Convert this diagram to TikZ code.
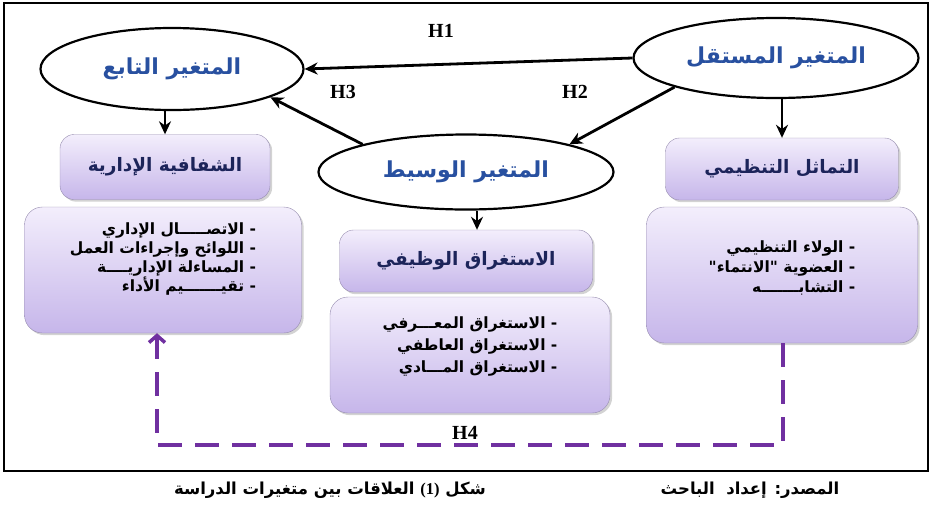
\documentclass[tikz,border=0pt]{standalone}
\usepackage{fontspec}
\usepackage{tikz}
\usetikzlibrary{arrows.meta,shapes.geometric,shadows}
\TeXXeTstate=1
\newfontfamily\arabicfont[Script=Arabic]{DejaVu Sans}
\newfontfamily\latinfont{Liberation Serif}
\definecolor{vartext}{RGB}{40,80,160}
\definecolor{boxtext}{RGB}{28,36,90}
\definecolor{boxtop}{RGB}{243,238,252}
\definecolor{boxbottom}{RGB}{198,182,234}
\definecolor{boxline}{RGB}{150,140,175}
\definecolor{hpath}{RGB}{112,48,160}

\begin{document}
\begin{tikzpicture}[x=1pt,y=-1pt,>={Stealth[length=13pt,width=12pt]},
  var/.style={draw,ellipse,line width=2.2pt,fill=white,inner sep=0pt,
    font=\arabicfont\bfseries\fontsize{22}{26}\selectfont,text=vartext},
  titlebox/.style={draw=boxline,rounded corners=14pt,top color=boxtop,bottom color=boxbottom,
    drop shadow={opacity=0.35},font=\arabicfont\bfseries\fontsize{18.5}{22}\selectfont,text=boxtext},
  listbox/.style={draw=boxline,rounded corners=18pt,top color=boxtop,bottom color=boxbottom,
    drop shadow={opacity=0.35},align=right,font=\arabicfont\bfseries\fontsize{15.5}{19}\selectfont},
  hyp/.style={font=\latinfont\bfseries\fontsize{20}{24}\selectfont},
  link/.style={->,line width=2.8pt},
  h4link/.style={-{Straight Barb[length=7pt,width=16pt]},line width=3.5pt,draw=hpath,
    dash pattern=on 24pt off 13pt}]
\useasboundingbox (0,0) rectangle (933,507);
\draw[line width=2pt] (4,3) rectangle (928,471);

% the three variables
\node[var,minimum width=263pt,minimum height=82pt] (dep) at (172,69) {\beginR المتغير التابع\endR};
\node[var,minimum width=285pt,minimum height=80pt] (ind) at (776,58) {\beginR المتغير المستقل\endR};
\node[var,minimum width=295pt,minimum height=75pt] (med) at (466,172) {\beginR المتغير الوسيط\endR};

% titles
\node[titlebox,minimum width=210pt,minimum height=65pt] (depT) at (165,167) {\beginR الشفافية الإدارية\endR};
\node[titlebox,minimum width=233pt,minimum height=62pt] (indT) at (782,169) {\beginR التماثل التنظيمي\endR};
\node[titlebox,minimum width=253pt,minimum height=62pt] (medT) at (466,261) {\beginR الاستغراق الوظيفي\endR};

% dimensions
\node[listbox,minimum width=277pt,minimum height=126pt,text depth=26pt] (depL) at (163,270) {%
  \beginR -\ الاتصـــــال الإداري\endR\\
  \beginR -\ اللوائح وإجراءات العمل\endR\\
  \beginR -\ المساءلة الإداريــــة\endR\\
  \beginR -\ تقيـــــــيم الأداء\endR};
\node[listbox,minimum width=271pt,minimum height=136pt,text depth=16pt,
  font=\arabicfont\bfseries\fontsize{15.5}{20}\selectfont] (indL) at (782,275) {%
  \beginR -\ الولاء التنظيمي\endR\\
  \beginR -\ العضوية "الانتماء"\endR\\
  \beginR -\ التشابـــــــه\endR};
\node[listbox,minimum width=280pt,minimum height=116pt,text depth=20pt,
  font=\arabicfont\bfseries\fontsize{15.5}{22}\selectfont] (medL) at (470,355) {%
  \beginR -\ الاستغراق المعـــرفي\endR\\
  \beginR -\ الاستغراق العاطفي\endR\\
  \beginR -\ الاستغراق المـــادي\endR};

% hypotheses
\draw[link] (ind.west) -- (dep.east);
\draw[link] (ind.196) -- (med.15);
\draw[link] (med.165) -- (dep.344);
\draw[link] (depT.north |- dep.south) -- (depT.north);
\draw[link] (indT.north |- ind.south) -- (indT.north);
\draw[link] ([xshift=11pt]med.south) -- ([xshift=11pt]medT.north);

\coordinate (h4r) at (783,445);
\coordinate (h4l) at (157,445);
\draw[h4link] (h4r |- indL.south) -- (h4r) -- (h4l) -- (h4l |- depL.south);

\node[hyp] (h1) at (441,31) {H1};
\node[hyp] (h2) at (575,92) {H2};
\node[hyp] (h3) at (343,92) {H3};
\node[hyp] (h4) at (465,433) {H4};

% caption
\node[font=\arabicfont\bfseries\fontsize{16.5}{19}\selectfont] (cap1) at (330,490)
  {\beginR شكل \beginL{\latinfont\bfseries (1)}\endL{} العلاقات بين متغيرات الدراسة\endR};
\node[font=\arabicfont\bfseries\fontsize{16.5}{19}\selectfont] (cap2) at (750,490)
  {\beginR المصدر: إعداد\ \ الباحث\endR};
\end{tikzpicture}
\end{document}
